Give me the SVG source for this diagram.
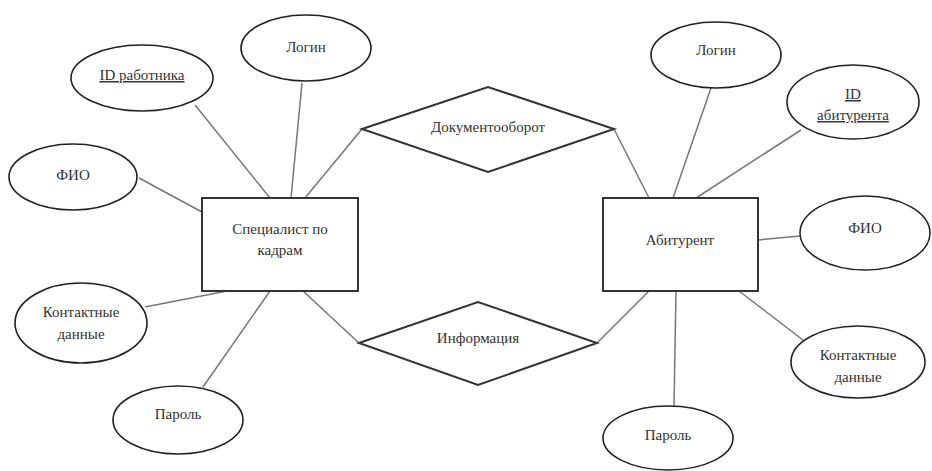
<svg xmlns="http://www.w3.org/2000/svg" width="932" height="471" viewBox="0 0 932 471">
<style>
.attr{fill:#fff;stroke:#222;stroke-width:1.6}
.main{fill:#fff;stroke:#333;stroke-width:2}
.ln{stroke:#777;stroke-width:1.5;fill:none}
text{font-family:"Liberation Serif",serif;font-size:15px;fill:#333;text-anchor:middle}
.u{text-decoration:underline}
</style>
<rect width="932" height="471" fill="#fff"/>
<g id="connectors" class="ln">
<line x1="195" y1="105" x2="270" y2="198"/>
<line x1="302" y1="83" x2="291" y2="198"/>
<line x1="362" y1="129" x2="305" y2="198"/>
<line x1="139" y1="178" x2="202" y2="212"/>
<line x1="145" y1="307" x2="227" y2="291"/>
<line x1="203" y1="387" x2="270" y2="291"/>
<line x1="303" y1="291" x2="359" y2="343"/>
<line x1="614" y1="129" x2="649" y2="198"/>
<line x1="711" y1="88" x2="673" y2="198"/>
<line x1="801" y1="130" x2="696" y2="198"/>
<line x1="758" y1="240" x2="800" y2="236"/>
<line x1="597" y1="343" x2="649" y2="291"/>
<line x1="674" y1="407" x2="676" y2="291"/>
<line x1="803" y1="340" x2="739" y2="291"/>
</g>
<g id="login1"><ellipse class="attr" cx="306" cy="48" rx="65" ry="33"/><text x="306" y="52">Логин</text></g>
<g id="id1"><ellipse class="attr" cx="142" cy="78" rx="71" ry="33"/><text class="u" x="142" y="80">ID работника</text></g>
<g id="fio1"><ellipse class="attr" cx="73" cy="177" rx="64" ry="33"/><text x="73" y="180">ФИО</text></g>
<g id="contact1"><ellipse class="attr" cx="81" cy="323" rx="66" ry="40"/><text x="81" y="317">Контактные</text><text x="81" y="339">данные</text></g>
<g id="pass1"><ellipse class="attr" cx="178" cy="420" rx="65" ry="34"/><text x="178" y="419">Пароль</text></g>
<g id="spec"><rect class="main" x="202" y="198" width="156" height="93"/><text x="280" y="234">Специалист по</text><text x="280" y="255">кадрам</text></g>
<g id="docflow"><polygon class="main" points="362,129 488,87 614,129 488,172"/><text x="488" y="132">Документооборот</text></g>
<g id="info"><polygon class="main" points="359,343 478,302 597,343 478,385"/><text x="478" y="343">Информация</text></g>
<g id="abit"><rect class="main" x="603" y="198" width="155" height="93"/><text x="680" y="245">Абитурент</text></g>
<g id="login2"><ellipse class="attr" cx="716" cy="55" rx="65" ry="33"/><text x="716" y="55">Логин</text></g>
<g id="id2"><ellipse class="attr" cx="853" cy="102" rx="66" ry="37"/><text class="u" x="853" y="99">ID</text><text class="u" x="853" y="120">абитурента</text></g>
<g id="fio2"><ellipse class="attr" cx="865" cy="233" rx="65" ry="37"/><text x="865" y="233">ФИО</text></g>
<g id="contact2"><ellipse class="attr" cx="858" cy="362" rx="67" ry="36"/><text x="858" y="360">Контактные</text><text x="858" y="382">данные</text></g>
<g id="pass2"><ellipse class="attr" cx="668" cy="438" rx="65" ry="32"/><text x="668" y="440">Пароль</text></g>
</svg>
